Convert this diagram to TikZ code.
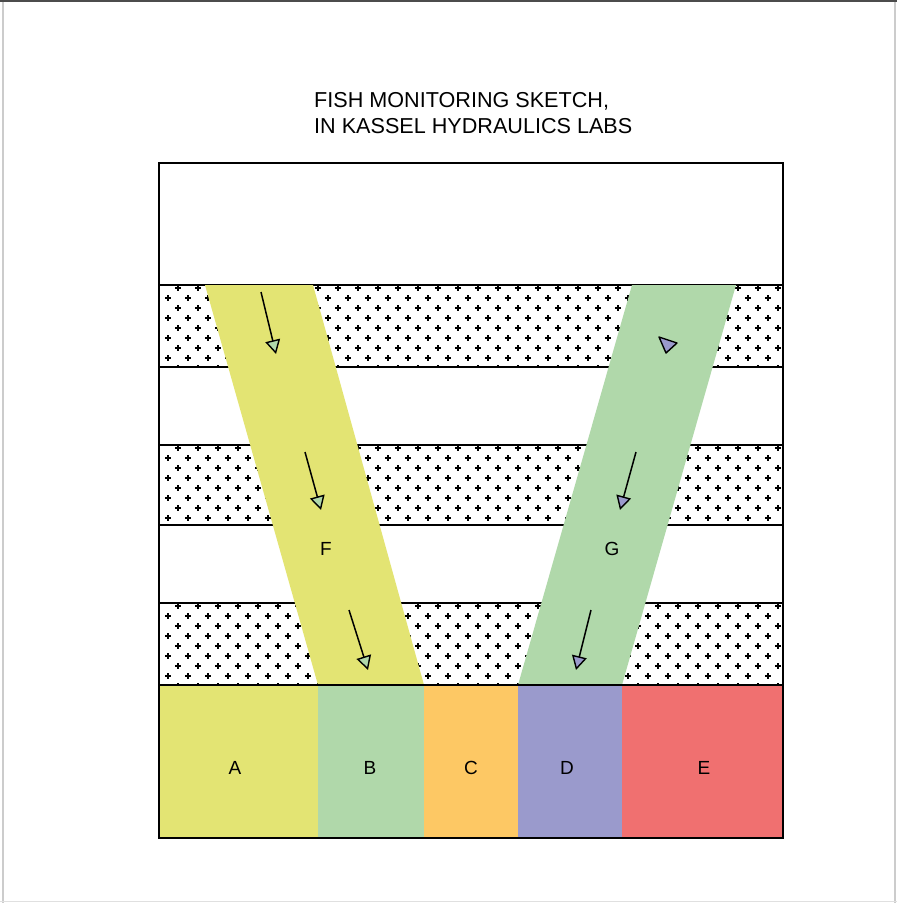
\documentclass[tikz,border=0pt]{standalone}
\usepackage{fontspec}
\setmainfont{Liberation Sans}
\usetikzlibrary{arrows.meta}
\definecolor{cyel}{RGB}{227,228,115}
\definecolor{cgrn}{RGB}{176,216,170}
\definecolor{corg}{RGB}{253,200,100}
\definecolor{cpur}{RGB}{154,154,204}
\definecolor{cred}{RGB}{240,112,112}
\tikzset{
  plusmark/.style={line width=1.5pt, black},
  hline/.style={line width=1.5pt, black},
  letter/.style={font=\fontsize{19}{22}\selectfont},
  titletext/.style={anchor=base west, font=\fontsize{21.6}{24}\selectfont, inner sep=0},
  fishF/.style={line width=1.5pt, -{Triangle[length=14pt,width=15pt,fill=cgrn,line width=1.4pt]}},
  fishG/.style={line width=1.5pt, -{Triangle[length=14pt,width=15pt,fill=cpur,line width=1.4pt]}},
}
\begin{document}
\begin{tikzpicture}[x=1pt,y=-1pt]
\useasboundingbox (0,0) rectangle (897,903);
\fill[white] (0,0) rectangle (897,903);
% screenshot border
\draw[black!20, line width=1.5pt] (3,1) -- (3,903);
\draw[black!20, line width=1.5pt] (895,1) -- (895,903);
\draw[black!12, line width=1pt] (0,901) -- (897,901);
\draw[black!70, line width=2pt] (0,1) -- (897,1);
% title
\node[titletext] (t1) at (314,107) {FISH MONITORING SKETCH,};
\node[titletext] (t2) at (314,133) {IN KASSEL HYDRAULICS LABS};
% dotted bands
\foreach \t/\b in {285/367,445/525,603/685} {
  \begin{scope}
  \clip (160,\t) rectangle (782,\b);
  \foreach \r in {0,...,8} {
    \foreach \c in {0,...,31} {
      \pgfmathsetmacro\px{168+20*\c+10*mod(\r+1,2)}
      \pgfmathsetmacro\py{\t+3+10*\r}
      \draw[plusmark] (\px-3,\py) -- (\px+3,\py) (\px,\py-3) -- (\px,\py+3);
    }
  }
  \end{scope}
}
% horizontal lines
\foreach \y in {285,367,445,525,603} {
  \draw[hline] (159,\y) -- (783,\y);
}
% passages
\fill[cyel] (205,285) -- (313,285) -- (424,685) -- (318,685) -- cycle;
\fill[cgrn] (632,285) -- (736,285) -- (622,685) -- (518,685) -- cycle;
% boxes
\fill[cyel] (159,685) rectangle (318,838);
\fill[cgrn] (318,685) rectangle (424,838);
\fill[corg] (424,685) rectangle (518,838);
\fill[cpur] (518,685) rectangle (622,838);
\fill[cred] (622,685) rectangle (783,838);
\draw[hline] (159,685) -- (783,685);
% frame
\draw[line width=1.7pt] (159,163) rectangle (783,838);
% labels
\node[letter] (A) at (235,768) {A};
\node[letter] (B) at (370,768) {B};
\node[letter] (C) at (471,768) {C};
\node[letter] (D) at (567,768) {D};
\node[letter] (E) at (704,768) {E};
\node[letter] (F) at (326,549) {F};
\node[letter] (G) at (612,549) {G};
% fish arrows
\coordinate (f1s) at (261,292); \coordinate (f1e) at (276,354);
\coordinate (f2s) at (305,452); \coordinate (f2e) at (321,510);
\coordinate (f3s) at (349,610); \coordinate (f3e) at (368,670);
\coordinate (g2s) at (636,452); \coordinate (g2e) at (620,510);
\coordinate (g3s) at (591,610); \coordinate (g3e) at (576,670);
\draw[fishF] (f1s) -- (f1e);
\draw[fishF] (f2s) -- (f2e);
\draw[fishF] (f3s) -- (f3e);
\draw[fishG] (g2s) -- (g2e);
\draw[fishG] (g3s) -- (g3e);
\coordinate (h1) at (659,337); \coordinate (h2) at (677,343); \coordinate (h3) at (666,353);
\filldraw[fill=cpur, draw=black, line width=1.4pt, line join=round] (h1) -- (h2) -- (h3) -- cycle;
\end{tikzpicture}
\end{document}
